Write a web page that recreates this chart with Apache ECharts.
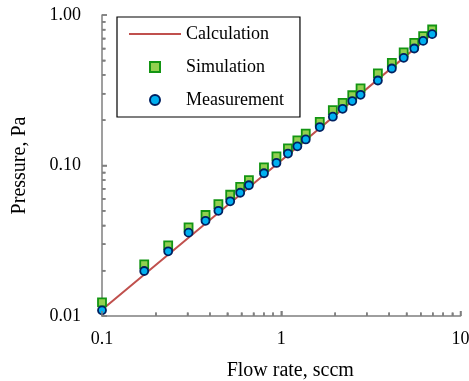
<!DOCTYPE html>
<html>
<head>
<meta charset="utf-8">
<script src="https://cdn.jsdelivr.net/npm/echarts@6/dist/echarts.min.js"></script>
<style>
  html, body { margin: 0; padding: 0; background: #fff; }
  #chart { width: 469px; height: 381px; }
</style>
</head>
<body>
<div id="chart"></div>
<script>
// flow rate (sccm) shared by the simulated and measured points
const flowRate = [0.1, 0.172, 0.234, 0.304, 0.378, 0.446, 0.519, 0.590, 0.660, 0.801, 0.940, 1.09, 1.23, 1.37, 1.64, 1.94, 2.20, 2.49, 2.77, 3.46, 4.14, 4.82, 5.52, 6.19, 6.95]
const measured = [0.0109, 0.0199, 0.0269, 0.0358, 0.0429, 0.050, 0.0578, 0.0659, 0.0739, 0.0888, 0.104, 0.120, 0.134, 0.149, 0.180, 0.211, 0.238, 0.268, 0.295, 0.367, 0.441, 0.519, 0.599, 0.673, 0.746]
const simulated = [0.0123, 0.0220, 0.0295, 0.0388, 0.0469, 0.0554, 0.0639, 0.0722, 0.080, 0.0971, 0.115, 0.130, 0.147, 0.163, 0.195, 0.233, 0.261, 0.293, 0.325, 0.409, 0.481, 0.564, 0.653, 0.723, 0.801]
// calculated curve (straight on log-log)
const calcFlow = [0.1, 1, 7]
const calcPressure = [0.011, 0.108, 0.755]

const xTicks = [0.1, 1, 10]
const xTickLabels = ['0.1', '1', '10']
const yTicks = [0.01, 0.1, 1]
const yTickLabels = ['0.01', '0.10', '1.00']
const xMinorTicks = [0.2, 0.3, 0.4, 0.5, 0.6, 0.7, 0.8, 0.9, 2, 3, 4, 5, 6, 7, 8, 9]
const yMinorTicks = [0.02, 0.03, 0.04, 0.05, 0.06, 0.07, 0.08, 0.09, 0.2, 0.3, 0.4, 0.5, 0.6, 0.7, 0.8, 0.9]

const font = 'Liberation Serif'
const axisGray = '#7f7f7f'

const pick = (ticks, labels) => (v) => {
  const i = ticks.findIndex(t => Math.abs(Math.log10(t) - Math.log10(v)) < 1e-6)
  return i >= 0 ? labels[i] : ''
}

const zip = (xs, ys) => xs.map((x, i) => [x, ys[i]])

// inside tick marks placed through the axis scales (third value: 1 = major)
const tickSeries = (rows, vertical) => ({
  type: 'custom',
  coordinateSystem: 'cartesian2d',
  silent: true,
  clip: false,
  z: 5,
  data: rows,
  renderItem: (params, api) => {
    const p = api.coord([api.value(0), api.value(1)])
    const len = api.value(2) ? 5 : 3.5
    return {
      type: 'line',
      shape: vertical
        ? { x1: p[0], y1: p[1], x2: p[0], y2: p[1] - len }
        : { x1: p[0], y1: p[1], x2: p[0] + len, y2: p[1] },
      style: { stroke: axisGray, lineWidth: 1.5, fill: null }
    }
  }
})

const xTickRows = xTicks.map(v => [v, yTicks[0], 1]).concat(xMinorTicks.map(v => [v, yTicks[0], 0]))
const yTickRows = yTicks.map(v => [xTicks[0], v, 1]).concat(yMinorTicks.map(v => [xTicks[0], v, 0]))

const tick = () => ({ show: true, inside: true, length: 5, lineStyle: { color: axisGray, width: 1.5 } })
const minor = () => ({ show: true, splitNumber: 9, length: 3.5, lineStyle: { color: axisGray, width: 1.5 } })

const chart = echarts.init(document.getElementById('chart'))

chart.setOption({
  backgroundColor: '#fff',
  animation: false,
  grid: { left: 102, right: 8.5, top: 15, bottom: 65, outerBoundsMode: 'none' },
  legend: {
    orient: 'vertical',
    left: 117,
    top: 17,
    padding: [7, 16, 7, 12],
    itemGap: 13,
    itemWidth: 52,
    itemHeight: 10,
    symbolKeepAspect: true,
    borderColor: '#000',
    borderWidth: 1.2,
    backgroundColor: '#fff',
    textStyle: { fontFamily: font, fontSize: 18, color: '#000', lineHeight: 20 },
    data: [
      { name: 'Calculation', icon: 'path://M0,0 L52,0 L52,2.2 L0,2.2 Z', itemStyle: { borderWidth: 0 } },
      { name: 'Simulation', icon: 'path://M0,0 L10,0 L10,10 L0,10 Z' },
      { name: 'Measurement', icon: 'circle' }
    ]
  },
  xAxis: {
    type: 'log', min: 0.1, max: 10,
    name: 'Flow rate, sccm', nameLocation: 'middle', nameGap: 45,
    nameTextStyle: { fontFamily: font, fontSize: 20, color: '#000', padding: [0, 0, 0, 18] },
    axisLine: { lineStyle: { color: axisGray, width: 1.5 } },
    axisTick: tick(),
    minorTick: minor(),
    axisLabel: { fontFamily: font, fontSize: 18, color: '#000', margin: 14, formatter: pick(xTicks, xTickLabels) },
    splitLine: { show: false }
  },
  yAxis: {
    type: 'log', min: 0.01, max: 1,
    name: 'Pressure, Pa', nameLocation: 'middle', nameGap: 72,
    nameTextStyle: { fontFamily: font, fontSize: 20, color: '#000' },
    axisLine: { lineStyle: { color: axisGray, width: 1.5 } },
    axisTick: tick(),
    minorTick: minor(),
    axisLabel: { fontFamily: font, fontSize: 18, color: '#000', margin: 21, formatter: pick(yTicks, yTickLabels) },
    splitLine: { show: false }
  },
  series: [
    tickSeries(xTickRows, true),
    tickSeries(yTickRows, false),
    {
      name: 'Calculation',
      type: 'line',
      data: zip(calcFlow, calcPressure),
      showSymbol: false,
      symbol: 'none',
      lineStyle: { color: '#c0504d', width: 2 },
      itemStyle: { color: '#c0504d' },
      z: 1
    },
    {
      name: 'Simulation',
      type: 'scatter',
      data: zip(flowRate, simulated),
      symbol: 'rect',
      symbolSize: 8,
      itemStyle: { color: '#92d050', borderColor: '#139513', borderWidth: 1.8, opacity: 1 },
      z: 2
    },
    {
      name: 'Measurement',
      type: 'scatter',
      data: zip(flowRate, measured),
      symbol: 'circle',
      symbolSize: 8,
      itemStyle: { color: '#00b0f0', borderColor: '#002060', borderWidth: 1.8, opacity: 1 },
      z: 3
    }
  ]
})
</script>
</body>
</html>
